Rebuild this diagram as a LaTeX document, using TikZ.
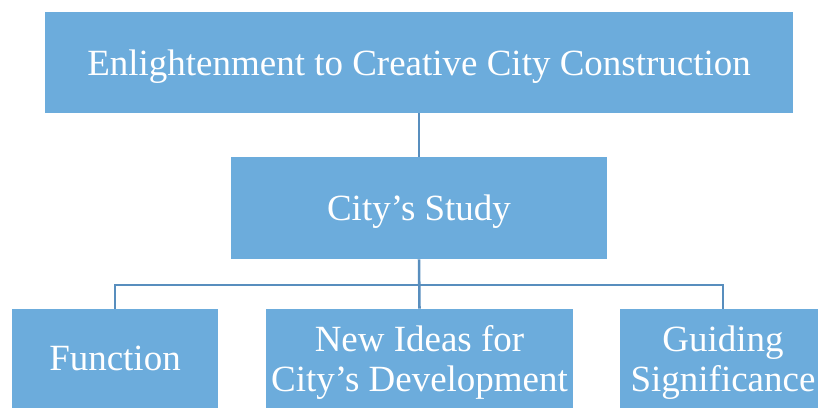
\documentclass[tikz,border=0pt]{standalone}
\usepackage{fontspec}
\setmainfont{Liberation Serif}
\definecolor{boxblue}{RGB}{108,172,220}
\definecolor{lineblue}{RGB}{88,142,190}
\tikzset{
  cbox/.style={fill=boxblue,text=white,inner sep=0pt,align=center,text depth=0pt,
    font=\fontsize{26.3}{28}\selectfont},
  conn/.style={draw=lineblue,line width=1.8pt}
}

\begin{document}
\begin{tikzpicture}
        \useasboundingbox (0,0) rectangle (20.45,10.2);
        % draw the boxes
        \node[cbox,minimum width=18.7cm,minimum height=2.525cm] (top) at (10.475,8.6375) {Enlightenment to Creative City Construction};
        \node[cbox,minimum width=9.4cm,minimum height=2.55cm] (study) at (10.475,5.0) {City’s Study};
        \node[cbox,minimum width=5.15cm,minimum height=2.475cm] (func) at (2.875,1.2375) {Function};
        \node[cbox,minimum width=7.675cm,minimum height=2.475cm] (ideas) at (10.4875,1.2375) {New Ideas for\\City’s Development};
        \node[cbox,minimum width=5.15cm,minimum height=2.475cm] (guide) at (18.075,1.2375) {Guiding\\Significance};
        % draw the connectors
        \coordinate (bus) at (10.475,3.075);
        \draw[conn] (top.south) -- (study.north);
        \draw[conn] (study.south) -- (ideas.north);
        \draw[conn] (func.north) |- (bus) -| (guide.north);
    \end{tikzpicture}
\end{document}
